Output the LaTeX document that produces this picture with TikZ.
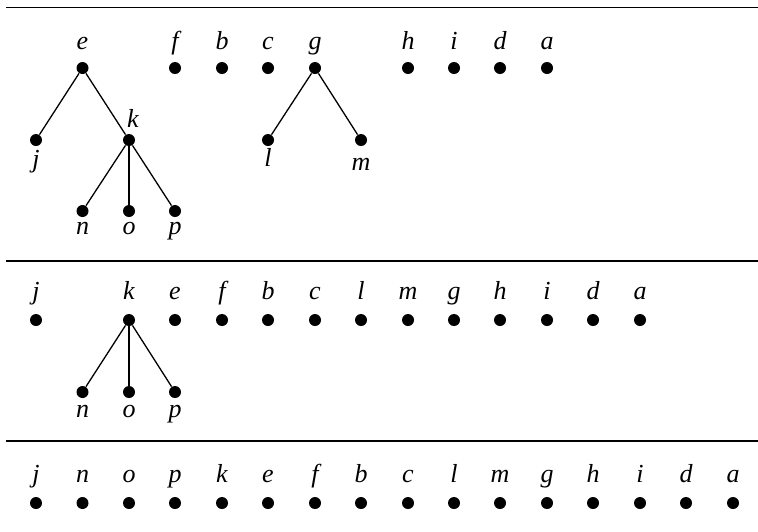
\documentclass[tikz,border=0pt]{standalone}
\usepackage{fontspec}
\setmainfont{Liberation Serif}
\usepackage{tikz}
\usetikzlibrary{positioning}

\begin{document}
\begin{tikzpicture}[
	x=0.5pt, y=-0.5pt,
	vertex/.style={circle, draw=none, fill=black, inner sep=0pt, minimum size=6pt},
	every label/.style={font=\fontsize{13}{15}\selectfont\itshape, text height=8pt, text depth=2.5pt, inner sep=0pt},
	label distance=3.5pt,
	edge/.style={line width=0.65pt},
	rule/.style={line width=0.7pt}]

	\useasboundingbox (0,0) rectangle (758,531);

	% separating rules
	\draw [rule] (6,7.5) -- (758,7.5);
	\draw [rule] (6,261) -- (758,261);
	\draw [rule] (6,441) -- (758,441);

	% forest before
	\node (e1) [vertex, label=above:e] at (82.5,68) {};
	\node (f1) [vertex, label=above:f] at (175,68) {};
	\node (b1) [vertex, label=above:b] at (222,68) {};
	\node (c1) [vertex, label=above:c] at (268,68) {};
	\node (g1) [vertex, label=above:g] at (315,68) {};
	\node (h1) [vertex, label=above:h] at (408,68) {};
	\node (i1) [vertex, label=above:i] at (454,68) {};
	\node (d1) [vertex, label=above:d] at (500,68) {};
	\node (a1) [vertex, label=above:a] at (547,68) {};
	\node (j1) [vertex, label={[label distance=2.5pt]below:j}] at (36,140) {};
	\node (k1) [vertex, label={[label distance=0.5pt, xshift=2pt]above:k}] at (129,140) {};
	\node (l1) [vertex, label={[label distance=2pt]below:l}] at (268,140) {};
	\node (m1) [vertex, label={[label distance=4pt]below:m}] at (361,140) {};
	\node (n1) [vertex, label={[label distance=0.5pt]below:n}] at (82.5,211) {};
	\node (o1) [vertex, label={[label distance=0.5pt]below:o}] at (129,211) {};
	\node (p1) [vertex, label={[label distance=0.5pt]below:p}] at (175,211) {};

	\draw [edge] (e1) -- (j1);
	\draw [edge] (e1) -- (k1);
	\draw [edge] (k1) -- (n1);
	\draw [edge] (k1) -- (o1);
	\draw [edge] (k1) -- (p1);
	\draw [edge] (g1) -- (l1);
	\draw [edge] (g1) -- (m1);

	% forest after one step
	\node (j2) [vertex, label={[label distance=4.5pt]above:j}] at (36,320) {};
	\node (k2) [vertex, label={[label distance=4.5pt]above:k}] at (129,320) {};
	\node (e2) [vertex, label={[label distance=4.5pt]above:e}] at (175,320) {};
	\node (f2) [vertex, label={[label distance=4.5pt]above:f}] at (222,320) {};
	\node (b2) [vertex, label={[label distance=4.5pt]above:b}] at (268,320) {};
	\node (c2) [vertex, label={[label distance=4.5pt]above:c}] at (315,320) {};
	\node (l2) [vertex, label={[label distance=4.5pt]above:l}] at (361,320) {};
	\node (m2) [vertex, label={[label distance=4.5pt]above:m}] at (408,320) {};
	\node (g2) [vertex, label={[label distance=4.5pt]above:g}] at (454,320) {};
	\node (h2) [vertex, label={[label distance=4.5pt]above:h}] at (500,320) {};
	\node (i2) [vertex, label={[label distance=4.5pt]above:i}] at (547,320) {};
	\node (d2) [vertex, label={[label distance=4.5pt]above:d}] at (593,320) {};
	\node (a2) [vertex, label={[label distance=4.5pt]above:a}] at (640,320) {};
	\node (n2) [vertex, label={[label distance=1.5pt]below:n}] at (82.5,392) {};
	\node (o2) [vertex, label={[label distance=1.5pt]below:o}] at (129,392) {};
	\node (p2) [vertex, label={[label distance=1.5pt]below:p}] at (175,392) {};

	\draw [edge] (k2) -- (n2);
	\draw [edge] (k2) -- (o2);
	\draw [edge] (k2) -- (p2);

	% final order
	\node (j3) [vertex, label={[label distance=4.5pt]above:j}] at (36,503) {};
	\node (n3) [vertex, label={[label distance=4.5pt]above:n}] at (82.5,503) {};
	\node (o3) [vertex, label={[label distance=4.5pt]above:o}] at (129,503) {};
	\node (p3) [vertex, label={[label distance=4.5pt]above:p}] at (175,503) {};
	\node (k3) [vertex, label={[label distance=4.5pt]above:k}] at (222,503) {};
	\node (e3) [vertex, label={[label distance=4.5pt]above:e}] at (268,503) {};
	\node (f3) [vertex, label={[label distance=4.5pt]above:f}] at (315,503) {};
	\node (b3) [vertex, label={[label distance=4.5pt]above:b}] at (361,503) {};
	\node (c3) [vertex, label={[label distance=4.5pt]above:c}] at (408,503) {};
	\node (l3) [vertex, label={[label distance=4.5pt]above:l}] at (454,503) {};
	\node (m3) [vertex, label={[label distance=4.5pt]above:m}] at (500,503) {};
	\node (g3) [vertex, label={[label distance=4.5pt]above:g}] at (547,503) {};
	\node (h3) [vertex, label={[label distance=4.5pt]above:h}] at (593,503) {};
	\node (i3) [vertex, label={[label distance=4.5pt]above:i}] at (640,503) {};
	\node (d3) [vertex, label={[label distance=4.5pt]above:d}] at (686,503) {};
	\node (a3) [vertex, label={[label distance=4.5pt]above:a}] at (733,503) {};

\end{tikzpicture}
\end{document}
